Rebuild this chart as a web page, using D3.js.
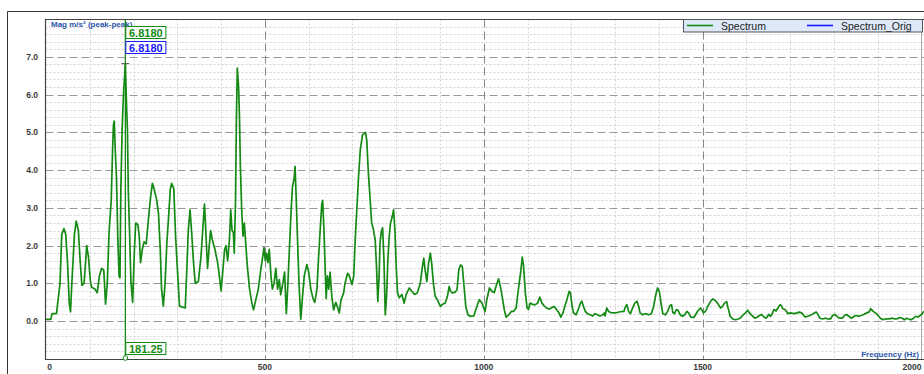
<!DOCTYPE html>
<html>
<head>
<meta charset="utf-8">
<script src="https://cdn.jsdelivr.net/npm/d3@7"></script>
<style>
  html, body { margin: 0; padding: 0; background: #fff; }
  svg { display: block; font-family: "Liberation Sans", Arial, sans-serif; }
</style>
</head>
<body>
<div id="chart"></div>
<script>
// ===== SPECTRUM DATA =====

const freq = [
  0, 11, 14, 24, 32, 36, 41, 45, 49, 53, 56, 59, 65, 69, 74, 78, 82, 87, 93, 97,
  101, 104, 112, 117, 122, 127, 132, 136, 140, 144, 149, 152, 154, 156, 158, 161, 164, 167, 169, 171,
  174, 177, 181.25, 184, 186, 188, 191, 194, 198, 202, 205, 210, 213, 216, 220, 224, 229, 234, 239, 243,
  247, 253, 257, 261, 264, 268, 272, 276, 280, 284, 287, 292, 296, 301, 305, 318, 322, 325, 329, 333,
  337, 341, 348, 354, 358, 362, 365, 369, 373, 376, 380, 386, 392, 396, 400, 403, 408, 411, 415, 419,
  422, 425, 428, 430, 433, 435, 437, 440, 442, 444, 447, 450, 453, 456, 460, 465, 470, 474, 480, 485,
  491, 495, 498, 501, 504, 507, 510, 514, 517, 521, 525, 529, 533, 536, 541, 545, 549, 552, 556, 560,
  563, 567, 569, 572, 575, 578, 582, 586, 590, 596, 600, 605, 610, 614, 619, 622, 626, 630, 632, 635,
  638, 640, 643, 646, 649, 653, 657, 662, 665, 670, 674, 680, 683, 689, 692, 699, 703, 706, 710, 714,
  718, 723, 727, 730, 733, 736, 741, 744, 748, 752, 755, 758, 761, 763, 766, 769, 772, 775, 778, 781,
  784, 787, 791, 794, 797, 800, 803, 807, 813, 818, 823, 830, 835, 842, 848, 855, 860, 863, 866, 870,
  874, 878, 881, 885, 889, 894, 901, 905, 912, 917, 921, 924, 928, 935, 939, 943, 947, 951, 955, 959,
  964, 969, 977, 982, 987, 990, 996, 1003, 1007, 1013, 1019, 1024, 1030, 1034, 1038, 1042, 1047, 1051, 1057, 1063,
  1068, 1074, 1080, 1084, 1088, 1091, 1095, 1099, 1102, 1106, 1112, 1118, 1123, 1128, 1133, 1138, 1143, 1150, 1155, 1161,
  1166, 1172, 1176, 1181, 1185, 1190, 1195, 1198, 1202, 1205, 1211, 1217, 1221, 1224, 1228, 1232, 1237, 1243, 1249, 1254,
  1260, 1265, 1272, 1275, 1277, 1281, 1285, 1290, 1295, 1304, 1312, 1320, 1324, 1327, 1331, 1335, 1340, 1345, 1350, 1354,
  1357, 1363, 1369, 1377, 1383, 1388, 1393, 1397, 1401, 1405, 1409, 1415, 1420, 1425, 1429, 1432, 1436, 1440, 1444, 1449,
  1454, 1459, 1464, 1468, 1473, 1480, 1489, 1495, 1498, 1502, 1507, 1512, 1518, 1523, 1529, 1534, 1541, 1546, 1550, 1555,
  1557, 1560, 1563, 1569, 1575, 1581, 1586, 1591, 1598, 1603, 1607, 1613, 1619, 1625, 1630, 1635, 1640, 1645, 1651, 1655,
  1659, 1663, 1668, 1672, 1677, 1680, 1683, 1688, 1691, 1695, 1701, 1708, 1716, 1721, 1726, 1731, 1735, 1740, 1745, 1750,
  1755, 1760, 1763, 1768, 1774, 1780, 1787, 1792, 1797, 1802, 1807, 1812, 1819, 1824, 1829, 1834, 1840, 1846, 1851, 1857,
  1862, 1868, 1874, 1880, 1884, 1887, 1892, 1897, 1901, 1906, 1912, 1918, 1924, 1929, 1934, 1939, 1946, 1950, 1956, 1961,
  1966, 1970, 1976, 1982, 1987, 1992, 2000, 2006
];

const mag = [
  0.05, 0.05, 0.2, 0.2, 1.0, 2.3, 2.45, 2.3, 1.6, 0.5, 0.25, 1.0, 2.3, 2.65, 2.4, 1.6, 0.95, 1.0, 2.0, 1.7,
  1.1, 0.9, 0.85, 0.75, 1.2, 1.4, 1.35, 0.45, 1.0, 2.35, 3.2, 4.5, 5.2, 5.3, 4.6, 3.8, 2.2, 1.2, 1.15, 3.5,
  5.1, 6.0, 6.818, 5.7, 5.1, 3.45, 2.3, 1.05, 0.5, 1.9, 2.6, 2.55, 2.25, 1.55, 1.9, 2.1, 2.05, 2.7, 3.3, 3.65,
  3.5, 3.2, 2.85, 1.9, 0.85, 0.4, 1.0, 2.05, 2.75, 3.5, 3.65, 3.5, 2.25, 1.2, 0.4, 0.35, 1.45, 2.4, 2.95, 2.3,
  1.55, 1.0, 1.05, 1.7, 2.4, 3.1, 2.4, 1.4, 2.0, 2.4, 2.15, 1.9, 1.55, 1.2, 0.8, 1.2, 1.9, 2.0, 1.6, 2.15,
  2.95, 2.4, 2.35, 1.8, 3.2, 5.4, 6.7, 6.2, 5.4, 4.1, 2.95, 2.25, 2.6, 2.1, 1.45, 0.85, 0.5, 0.3, 0.6, 0.85,
  1.4, 1.7, 1.95, 1.6, 1.8, 1.55, 1.9, 1.2, 0.85, 1.0, 1.4, 0.85, 1.1, 0.7, 1.0, 1.3, 0.2, 0.85, 1.9, 2.95,
  3.55, 3.8, 4.1, 3.1, 2.0, 1.0, 0.05, 0.65, 1.2, 1.5, 1.3, 0.85, 0.6, 0.5, 0.85, 1.55, 2.35, 3.1, 3.2, 2.4,
  1.3, 0.6, 1.2, 0.85, 1.3, 0.65, 0.3, 0.5, 0.4, 0.22, 0.57, 0.75, 1.0, 1.27, 1.23, 0.97, 1.2, 2.07, 2.95, 3.83,
  4.54, 4.93, 4.97, 5.0, 4.76, 4.0, 3.13, 2.6, 2.42, 2.15, 1.45, 0.52, 1.2, 2.07, 2.38, 2.47, 1.63, 0.17, 0.66, 1.63,
  2.24, 2.6, 2.77, 2.95, 2.42, 1.45, 0.75, 0.62, 0.71, 0.48, 0.71, 0.88, 0.8, 0.71, 0.75, 1.0, 1.45, 1.67, 1.36, 1.05,
  1.54, 1.8, 1.54, 1.0, 0.66, 0.57, 0.39, 0.44, 0.48, 0.66, 0.92, 0.8, 0.75, 0.77, 0.84, 1.36, 1.49, 1.45, 0.92, 0.39,
  0.17, 0.13, 0.14, 0.31, 0.48, 0.57, 0.48, 0.26, 0.57, 0.88, 0.79, 0.76, 1.0, 1.12, 0.92, 0.66, 0.3, 0.11, 0.17, 0.26,
  0.26, 0.35, 0.92, 1.27, 1.7, 1.45, 0.75, 0.35, 0.31, 0.48, 0.44, 0.44, 0.48, 0.64, 0.48, 0.41, 0.35, 0.32, 0.36, 0.39,
  0.31, 0.22, 0.11, 0.22, 0.39, 0.57, 0.79, 0.75, 0.39, 0.22, 0.17, 0.35, 0.48, 0.53, 0.39, 0.26, 0.2, 0.17, 0.14, 0.2,
  0.17, 0.14, 0.17, 0.22, 0.14, 0.35, 0.26, 0.23, 0.22, 0.23, 0.25, 0.26, 0.39, 0.44, 0.26, 0.2, 0.35, 0.48, 0.53, 0.39,
  0.22, 0.17, 0.2, 0.17, 0.2, 0.39, 0.7, 0.88, 0.79, 0.48, 0.2, 0.17, 0.26, 0.41, 0.44, 0.23, 0.2, 0.31, 0.29, 0.17,
  0.13, 0.17, 0.26, 0.22, 0.11, 0.1, 0.27, 0.35, 0.3, 0.22, 0.27, 0.4, 0.52, 0.59, 0.55, 0.48, 0.35, 0.4, 0.48, 0.52,
  0.4, 0.27, 0.13, 0.06, 0.04, 0.06, 0.08, 0.15, 0.22, 0.29, 0.22, 0.15, 0.08, 0.11, 0.15, 0.18, 0.11, 0.08, 0.18, 0.13,
  0.2, 0.31, 0.27, 0.35, 0.44, 0.41, 0.33, 0.31, 0.27, 0.2, 0.22, 0.2, 0.22, 0.24, 0.22, 0.15, 0.11, 0.13, 0.15, 0.18,
  0.22, 0.24, 0.18, 0.08, 0.06, 0.08, 0.06, 0.06, 0.15, 0.18, 0.13, 0.08, 0.08, 0.15, 0.18, 0.13, 0.08, 0.13, 0.15, 0.13,
  0.15, 0.18, 0.22, 0.24, 0.33, 0.29, 0.24, 0.2, 0.15, 0.08, 0.04, 0.06, 0.06, 0.07, 0.08, 0.06, 0.07, 0.1, 0.08, 0.04,
  0.08, 0.06, 0.04, 0.08, 0.13, 0.11, 0.18, 0.27
];

const xTicks = [0, 500, 1000, 1500, 2000];
const yTicks = [0, 1, 2, 3, 4, 5, 6, 7];
const legendNames = ["Spectrum", "Spectrum_Orig"];
const legendColors = ["#148a14", "#1a1aff"];
const cursorFreq = 181.25;
const cursorMag = 6.818;
const cursorOrigMag = 6.818;

// ===== LAYOUT =====
const config = {
  width: 924,
  height: 374,
  left: 45.5,
  top: 19.5,
  bottom: 359.5,
  right: 921.5,
  gridMajor: "#9a9a9a",
  gridMinor: "#d2d2d2",
  axisText: "#3a3a3a",
  titleBlue: "#2a55aa",
  lineGreen: "#148a14"
};

const svg = d3.select("#chart")
  .append("svg")
  .attr("width", config.width)
  .attr("height", config.height);

svg.append("rect")
  .attr("width", config.width)
  .attr("height", config.height)
  .attr("fill", "#fff");

// outer frame of the widget (runs off the right/bottom edge)
svg.append("path")
  .attr("d", `M7.5,${config.height} V11.5 H${config.width}`)
  .attr("fill", "none")
  .attr("stroke", "#333")
  .attr("stroke-width", 1);

const x = d3.scaleLinear().domain([0, 2000]).range([46, 921.5]);
const y = d3.scaleLinear().domain([-1, 8]).range([config.bottom - 0.5, config.top - 0.5]);

// clip for the spectrum line
svg.append("defs").append("clipPath")
  .attr("id", "plot-clip")
  .append("rect")
  .attr("x", config.left)
  .attr("y", config.top)
  .attr("width", config.width - config.left)
  .attr("height", config.bottom - config.top);

// ===== GRID =====
const grid = svg.append("g");

const yMinor = d3.range(-4, 40).map(i => i * 0.2).filter(v => Math.abs(v - Math.round(v)) > 0.01 && v < 8 && v > -1);
grid.selectAll(".yminor")
  .data(yMinor)
  .join("line")
  .attr("x1", config.left).attr("x2", config.width)
  .attr("y1", d => Math.round(y(d)) + 0.5).attr("y2", d => Math.round(y(d)) + 0.5)
  .attr("stroke", config.gridMinor)
  .attr("stroke-dasharray", "2,2");

const xMinor = d3.range(100, 2000, 100).filter(v => v % 500 !== 0);
grid.selectAll(".xminor")
  .data(xMinor)
  .join("line")
  .attr("x1", d => Math.round(x(d)) + 0.5).attr("x2", d => Math.round(x(d)) + 0.5)
  .attr("y1", config.top).attr("y2", config.bottom)
  .attr("stroke", config.gridMinor)
  .attr("stroke-dasharray", "2,2");

grid.selectAll(".ymajor")
  .data(yTicks)
  .join("line")
  .attr("x1", config.left).attr("x2", config.width)
  .attr("y1", d => Math.round(y(d)) + 0.5).attr("y2", d => Math.round(y(d)) + 0.5)
  .attr("stroke", config.gridMajor)
  .attr("stroke-dasharray", "8,4");

grid.selectAll(".xmajor")
  .data(xTicks.filter(d => d > 0 && d < 2000))
  .join("line")
  .attr("x1", d => Math.round(x(d)) + 0.5).attr("x2", d => Math.round(x(d)) + 0.5)
  .attr("y1", config.top).attr("y2", config.bottom)
  .attr("stroke", "#888")
  .attr("stroke-dasharray", "8,4");

// right border of plot
grid.append("line")
  .attr("x1", config.right).attr("x2", config.right)
  .attr("y1", config.top).attr("y2", config.bottom)
  .attr("stroke", "#aaa");

// ===== AXES =====
svg.append("path")
  .attr("d", `M${config.width},${config.top} H${config.left} V${config.bottom} H${config.width}`)
  .attr("fill", "none")
  .attr("stroke", "#444")
  .attr("stroke-width", 1.2);

svg.append("g")
  .selectAll("text")
  .data(yTicks)
  .join("text")
  .attr("x", 38)
  .attr("y", d => y(d) + 3)
  .attr("text-anchor", "end")
  .attr("font-size", 8.5)
  .attr("font-weight", "bold")
  .attr("fill", config.axisText)
  .text(d => d3.format(".1f")(d));

svg.append("g")
  .selectAll("text")
  .data(xTicks)
  .join("text")
  .attr("x", d => d === 0 ? x(d) + 3.5 : x(d))
  .attr("y", 370)
  .attr("text-anchor", d => d === 2000 ? "end" : "middle")
  .attr("font-size", 8.5)
  .attr("font-weight", "bold")
  .attr("fill", config.axisText)
  .text(d => d);

svg.append("text")
  .attr("x", 51)
  .attr("y", 26.5)
  .attr("font-size", 8)
  .attr("font-weight", "bold")
  .attr("fill", config.titleBlue)
  .text("Mag m/s² (peak-peak)");

svg.append("text")
  .attr("x", 919)
  .attr("y", 357)
  .attr("text-anchor", "end")
  .attr("font-size", 8)
  .attr("font-weight", "bold")
  .attr("fill", config.titleBlue)
  .text("Frequency (Hz)");

// ===== SPECTRUM LINE =====
const points = freq.map((f, i) => [f, mag[i]]);
const line = d3.line()
  .x(d => x(d[0]))
  .y(d => y(d[1]));

svg.append("path")
  .datum(points)
  .attr("clip-path", "url(#plot-clip)")
  .attr("d", line)
  .attr("fill", "none")
  .attr("stroke", config.lineGreen)
  .attr("stroke-width", 1.7)
  .attr("stroke-linejoin", "round");

// ===== CURSOR =====
const cx = x(cursorFreq);
const cursor = svg.append("g");

cursor.append("line")
  .attr("x1", cx).attr("x2", cx)
  .attr("y1", config.top).attr("y2", config.bottom)
  .attr("stroke", config.lineGreen)
  .attr("stroke-width", 1.3);

cursor.append("line")
  .attr("x1", cx - 4).attr("x2", cx + 4)
  .attr("y1", y(cursorMag)).attr("y2", y(cursorMag))
  .attr("stroke", "#555")
  .attr("stroke-width", 1);

cursor.append("circle")
  .attr("cx", cx).attr("cy", config.bottom - 1.5)
  .attr("r", 2.3)
  .attr("fill", "#fff")
  .attr("stroke", config.lineGreen);

const boxes = [
  { text: d3.format(".4f")(cursorMag), color: legendColors[0], top: 26 },
  { text: d3.format(".4f")(cursorOrigMag), color: legendColors[1], top: 41 },
  { text: d3.format(".2f")(cursorFreq), color: legendColors[0], top: 342 }
];

boxes.forEach(b => {
  cursor.append("rect")
    .attr("x", cx + 0.5)
    .attr("y", b.top + 0.5)
    .attr("width", 40)
    .attr("height", 12)
    .attr("fill", "#fff")
    .attr("stroke", b.color)
    .attr("stroke-width", 1);
  cursor.append("text")
    .attr("x", cx + 20.5)
    .attr("y", b.top + 10.5)
    .attr("text-anchor", "middle")
    .attr("font-size", 11)
    .attr("font-weight", "bold")
    .attr("fill", b.color)
    .text(b.text);
});

// ===== LEGEND =====
const legend = svg.append("g");

legend.append("rect")
  .attr("x", 683.5)
  .attr("y", config.top)
  .attr("width", 239)
  .attr("height", 12.5)
  .attr("fill", "#dde9f9")
  .attr("stroke", "#555");

const legendX = [687, 807];
legendNames.forEach((name, i) => {
  legend.append("line")
    .attr("x1", legendX[i]).attr("x2", legendX[i] + 26)
    .attr("y1", 25.5).attr("y2", 25.5)
    .attr("stroke", legendColors[i])
    .attr("stroke-width", 1.6);
  legend.append("text")
    .attr("x", legendX[i] + 34)
    .attr("y", 29.5)
    .attr("font-size", 10.5)
    .attr("fill", "#222")
    .text(name);
});
</script>
</body>
</html>
